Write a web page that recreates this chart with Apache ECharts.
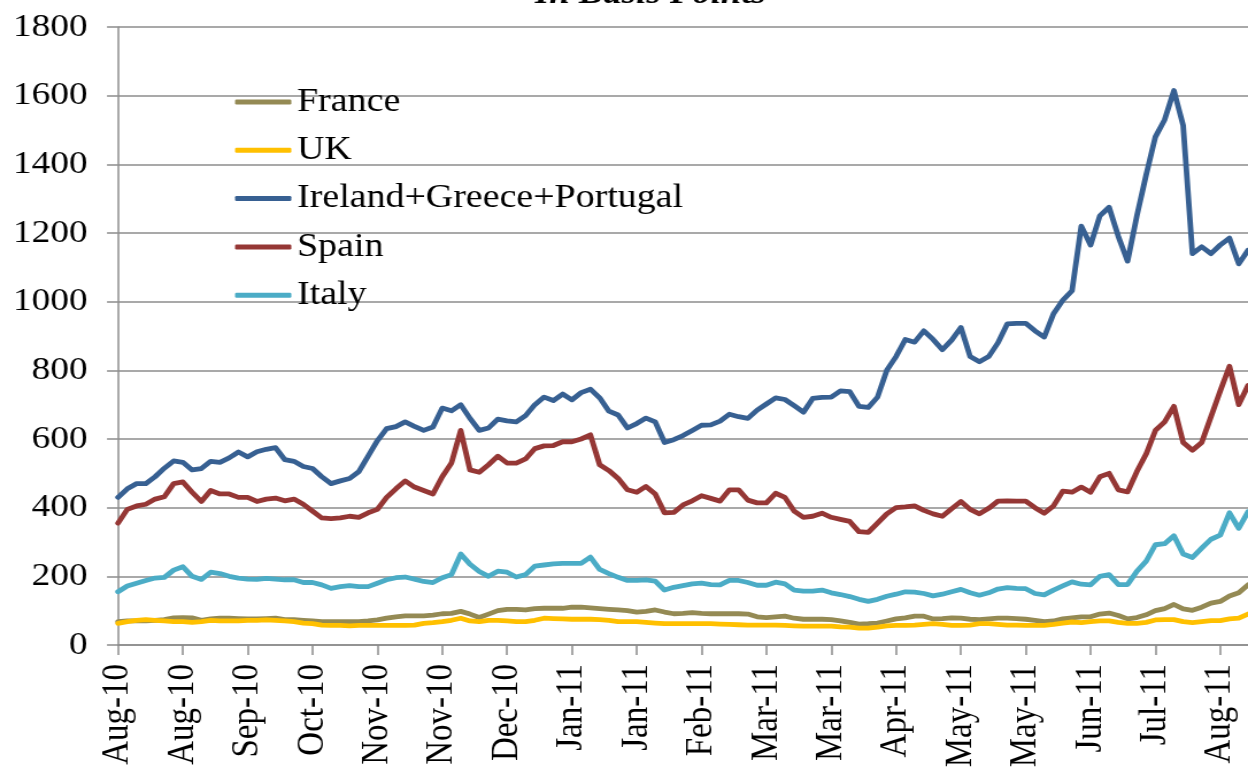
<!DOCTYPE html>
<html>
<head>
<meta charset="utf-8">
<script src="https://cdn.jsdelivr.net/npm/echarts@6/dist/echarts.min.js"></script>
<style>
html,body{margin:0;padding:0;background:#fff;overflow:hidden;}
#chart{width:1086px;height:772px;transform:scaleX(1.14917);transform-origin:0 0;}
</style>
</head>
<body>
<div id="chart"></div>
<script>
const tickLabels = ['Aug-10','Aug-10','Sep-10','Oct-10','Nov-10','Nov-10','Dec-10','Jan-11','Jan-11','Feb-11','Mar-11','Mar-11','Apr-11','May-11','May-11','Jun-11','Jul-11','Aug-11'];
const pointsPerTick = 7;

const france = [68,70,70,70,72,74,79,80,79,72,76,78,78,77,76,76,77,78,74,74,72,
70,68,68,68,68,68,70,73,78,82,85,85,85,87,91,92,98,90,80,90,100,
104,104,102,106,107,107,107,110,110,108,106,104,102,100,96,98,102,96,91,92,94,
92,91,91,91,91,90,82,80,82,84,78,75,75,75,74,70,66,61,62,64,70,76,
79,84,84,76,77,79,78,75,74,76,78,78,77,75,72,68,70,76,79,82,82,
90,93,86,76,80,88,100,106,118,105,101,110,122,127,143,152,175];

const uk = [63,68,72,74,72,70,68,68,66,68,72,70,70,70,72,72,73,72,70,68,64,
62,58,57,57,56,57,57,57,57,57,57,58,63,65,68,72,78,70,68,72,72,
70,68,68,72,78,77,76,75,75,75,74,72,68,68,68,66,64,62,62,62,62,
62,62,61,60,59,58,58,58,58,57,56,55,55,55,55,53,52,49,49,52,56,57,
57,58,60,62,60,57,57,58,62,62,60,58,58,57,57,57,60,64,67,65,68,
70,70,66,63,63,66,73,74,74,68,65,68,71,71,76,78,90];

const igp = [430,455,470,470,490,515,536,532,510,514,535,532,545,562,548,563,570,575,540,535,520,
514,490,470,478,485,505,550,595,630,636,650,637,625,635,690,682,700,660,625,632,658,
653,650,668,700,722,712,731,714,735,745,720,681,670,632,645,661,650,590,598,610,625,
640,641,652,672,665,660,684,702,720,715,697,678,718,721,722,740,738,695,692,722,800,840,
890,882,915,890,860,888,925,840,825,840,880,935,937,937,915,897,965,1004,1032,1220,1165,
1250,1275,1190,1118,1250,1369,1480,1530,1615,1513,1140,1160,1140,1165,1185,1110,1150];

const spain = [355,395,405,410,425,432,470,475,445,418,450,440,440,430,430,418,425,428,420,425,410,
390,370,368,370,375,372,385,395,430,455,478,460,450,440,490,530,625,510,503,525,550,
530,530,542,572,580,581,592,592,600,612,525,508,485,452,445,462,440,385,386,408,420,
435,427,419,452,452,422,414,414,442,430,390,372,375,384,372,366,360,330,328,355,382,400,
402,405,392,382,375,397,418,395,382,398,419,420,419,419,400,384,405,448,445,460,445,
490,500,452,446,505,556,625,650,695,590,567,590,665,740,812,700,756];

const italy = [155,172,180,188,195,197,218,228,200,191,212,208,200,195,192,191,194,192,190,190,182,
182,175,165,170,173,170,170,180,190,196,198,192,185,182,196,205,265,235,214,200,215,
212,198,205,230,233,236,238,238,238,256,220,208,197,188,188,190,186,160,168,173,178,
180,176,175,188,188,182,174,174,183,178,160,157,157,160,152,147,141,133,127,133,142,148,
155,154,150,143,148,155,162,152,145,152,163,167,165,164,150,146,160,172,184,177,175,
200,205,176,176,215,244,292,295,318,265,255,282,308,320,385,340,388];

const seriesNames = ['France','UK','Ireland+Greece+Portugal','Spain','Italy'];
const seriesData = [france, uk, igp, spain, italy];
const seriesColors = ['#948A54','#FFC000','#376092','#953735','#4BACC6'];

const categories = france.map((_, i) => i % pointsPerTick === 0 ? tickLabels[i / pointsPerTick] : ('d' + i));

const FONT = 'Liberation Serif';
const chart = echarts.init(document.getElementById('chart'));
chart.setOption({
  animation: false,
  backgroundColor: '#fff',
  graphic: [{
    type: 'text', x: 566, y: 11,
    style: { text: 'In Basis Points', font: 'italic bold 32px "Liberation Serif"', fill: '#000', textAlign: 'center', textVerticalAlign: 'bottom' }
  }],
  grid: { left: 102.7, right: 0, top: 27, bottom: 127, containLabel: false },
  legend: {
    orient: 'vertical', left: 199.5, top: 80,
    icon: 'roundRect',
    itemWidth: 49, itemHeight: 5, itemGap: 14.3,
    textStyle: { fontFamily: FONT, fontSize: 33, color: '#000', lineHeight: 34 },
    data: seriesNames
  },
  xAxis: {
    type: 'category', boundaryGap: false, data: categories,
    axisLine: { lineStyle: { color: '#8c8c8c', width: 1.5 } },
    axisTick: { show: true, interval: pointsPerTick - 1, length: 10, lineStyle: { color: '#8c8c8c', width: 1.5 } },
    axisLabel: { interval: pointsPerTick - 1, rotate: 90, margin: 19, fontFamily: FONT, fontSize: 33, color: '#000' },
    splitLine: { show: false }
  },
  yAxis: {
    type: 'value', min: 0, max: 1800, interval: 200,
    axisLine: { show: true, lineStyle: { color: '#8c8c8c', width: 1.5 } },
    axisTick: { show: true, length: 9.6, lineStyle: { color: '#8c8c8c', width: 1.5 } },
    axisLabel: { margin: 26.5, fontFamily: FONT, fontSize: 32.5, color: '#000', formatter: v => String(v) },
    splitLine: { show: true, lineStyle: { color: '#8c8c8c', width: 1.5 } }
  },
  series: seriesNames.map((n, k) => ({
    name: n, type: 'line', data: seriesData[k],
    symbol: 'none', showSymbol: false, smooth: false,
    color: seriesColors[k],
    lineStyle: { color: seriesColors[k], width: 4.8, cap: 'round', join: 'round' }
  }))
});
</script>
</body>
</html>
